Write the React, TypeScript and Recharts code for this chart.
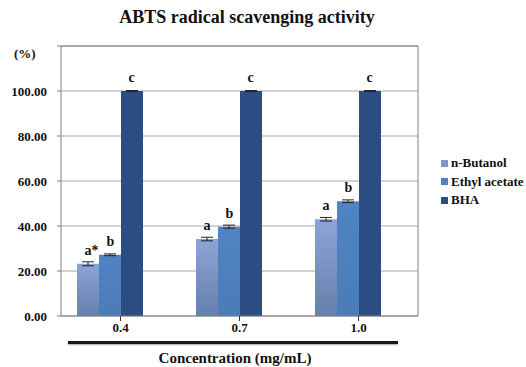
import { BarChart, Bar, XAxis, YAxis, CartesianGrid, Legend, ErrorBar, LabelList, ReferenceLine } from 'recharts';

const categories = ['0.4', '0.7', '1.0'];
const butanol = [23.2, 34.2, 43.0];
const ethylAcetate = [27.2, 39.7, 51.0];
const bha = [100.0, 100.0, 100.0];
const butanolErr = [0.9, 0.8, 0.8];
const ethylErr = [0.4, 0.7, 0.6];
const bhaErr = [0.2, 0.2, 0.2];
const butanolLetters = ['a*', 'a', 'a'];
const ethylLetters = ['b', 'b', 'b'];
const bhaLetters = ['c', 'c', 'c'];
const yTicks = [0, 20, 40, 60, 80, 100, 120];

const data = categories.map((name, i) => ({
  name,
  butanol: butanol[i],
  ethyl: ethylAcetate[i],
  bha: bha[i],
  butanolErr: butanolErr[i],
  ethylErr: ethylErr[i],
  bhaErr: bhaErr[i],
}));

const FONT = 'Liberation Serif';
const FRAME = '#7f7f7f';

const series = [
  { key: 'butanol', err: 'butanolErr', name: 'n-Butanol', fill: 'url(#gradButanol)', swatch: '#7f98c8', letters: butanolLetters },
  { key: 'ethyl', err: 'ethylErr', name: 'Ethyl acetate', fill: 'url(#gradEthyl)', swatch: '#4f81bd', letters: ethylLetters },
  { key: 'bha', err: 'bhaErr', name: 'BHA', fill: '#2c4d84', swatch: '#2c4d84', letters: bhaLetters },
];

function letterLabel(letters: string[]) {
  return (props: any) => {
    const { x, y, width, index } = props;
    return (
      <text
        x={x + width / 2 - 3.5}
        y={y - 9}
        textAnchor="start"
        fontFamily={FONT}
        fontWeight="bold"
        fontSize={14}
        fill="#111"
      >
        {letters[index]}
      </text>
    );
  };
}

function LegendBox() {
  return (
    <div style={{ fontFamily: FONT, fontWeight: 'bold', fontSize: 13, color: '#111', textAlign: 'left' }}>
      {series.map((s) => (
        <div key={s.key} style={{ display: 'flex', alignItems: 'center', height: 18.5 }}>
          <span style={{ width: 7, height: 7, background: s.swatch, marginRight: 3, display: 'inline-block' }} />
          {s.name}
        </div>
      ))}
    </div>
  );
}

export default function App() {
  return (
    <div style={{ position: 'absolute', left: 0, top: 0, width: 526, height: 367, background: '#fff', fontFamily: FONT }}>
      <div style={{ position: 'absolute', left: 0, width: 494, top: 7, textAlign: 'center', fontSize: 18, fontWeight: 'bold', color: '#111' }}>
        ABTS radical scavenging activity
      </div>
      <div style={{ position: 'absolute', left: 14, top: 46, fontSize: 13, fontWeight: 'bold', color: '#111' }}>(%)</div>
      <BarChart
        width={526}
        height={367}
        data={data}
        margin={{ top: 46, right: 107, left: 0, bottom: 21 }}
        barSize={22}
        barGap={0}
      >
        <defs>
          <linearGradient id="gradButanol" x1="0" y1="0" x2="0" y2="1">
            <stop offset="0%" stopColor="#8ca4d8" />
            <stop offset="100%" stopColor="#6680ac" />
          </linearGradient>
          <linearGradient id="gradEthyl" x1="0" y1="0" x2="0" y2="1">
            <stop offset="0%" stopColor="#5084c2" />
            <stop offset="100%" stopColor="#4a7cb8" />
          </linearGradient>
        </defs>
        <CartesianGrid vertical={false} stroke="#a6a6a6" />
        <XAxis
          dataKey="name"
          height={30}
          axisLine={{ stroke: FRAME }}
          tickLine={{ stroke: '#333' }}
          tickSize={5}
          tick={{ fontFamily: FONT, fontWeight: 'bold', fontSize: 13, fill: '#111' }}
        />
        <YAxis
          width={61}
          domain={[0, 120]}
          ticks={yTicks}
          interval={0}
          axisLine={{ stroke: FRAME }}
          tickLine={{ stroke: FRAME }}
          tickSize={4}
          tickMargin={10}
          tickFormatter={(v: number) => (v === 120 ? '' : v.toFixed(2))}
          tick={{ fontFamily: FONT, fontWeight: 'bold', fontSize: 13, fill: '#111' }}
        />
        <YAxis yAxisId="frame" orientation="right" width={1} domain={[0, 120]} tick={false} tickLine={false} axisLine={{ stroke: FRAME }} />
        <ReferenceLine y={120} stroke={FRAME} />
        {series.map((s) => (
          <Bar key={s.key} dataKey={s.key} name={s.name} fill={s.fill} isAnimationActive={false}>
            <ErrorBar dataKey={s.err} width={6} stroke="#222" strokeWidth={1} direction="y" />
            <LabelList dataKey={s.key} content={letterLabel(s.letters)} />
          </Bar>
        ))}
        {/* empty fourth slot, as in the source chart */}
        <Bar dataKey="blank" fill="none" legendType="none" isAnimationActive={false} />
        <Legend
          layout="horizontal"
          verticalAlign="middle"
          align="center"
          content={() => <LegendBox />}
          wrapperStyle={{ left: 441, top: 154, width: 90 }}
        />
      </BarChart>
      <div style={{ position: 'absolute', left: 68, top: 341, width: 330, height: 3, background: '#24160e', boxShadow: '0 1px 2px rgba(0,0,0,0.35)' }} />
      <div style={{ position: 'absolute', left: 0, width: 470, top: 350, textAlign: 'center', fontSize: 15, fontWeight: 'bold', color: '#111' }}>
        Concentration (mg/mL)
      </div>
    </div>
  );
}
